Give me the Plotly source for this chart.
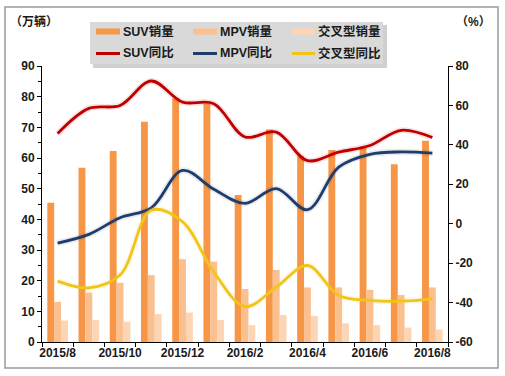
import plotly.graph_objects as go

categories = ["2015/8", "2015/9", "2015/10", "2015/11", "2015/12", "2016/1", "2016/2",
              "2016/3", "2016/4", "2016/5", "2016/6", "2016/7", "2016/8"]
suv_sales = [45.4, 56.8, 62.3, 71.8, 79.4, 77.8, 47.9, 69.3, 60.6, 62.6, 63.7, 58.0, 65.6]
mpv_sales = [13.1, 16.1, 19.3, 21.8, 27.0, 26.2, 17.3, 23.5, 17.8, 17.8, 17.0, 15.3, 17.8]
cross_sales = [7.0, 7.2, 6.6, 9.1, 9.6, 7.2, 5.5, 8.8, 8.5, 6.1, 5.5, 4.7, 4.1]
suv_yoy = [45.7, 58.5, 60.0, 72.4, 61.7, 60.9, 44.0, 46.5, 32.0, 36.3, 39.7, 47.4, 43.7]
mpv_yoy = [-9.8, -5.4, 3.0, 8.0, 27.0, 17.5, 10.3, 17.8, 7.1, 28.7, 35.2, 36.4, 35.8]
cross_yoy = [-29.1, -32.5, -26.0, 6.8, 1.0, -24.5, -42.0, -32.2, -21.2, -36.4, -38.9, -39.3, -38.1]

bar_names = ["SUV销量", "MPV销量", "交叉型销量"]
line_names = ["SUV同比", "MPV同比", "交叉型同比"]
bar_colors = ["#F79646", "#FAC090", "#FCD5B5"]
line_colors = ["#C00000", "#1F3D6B", "#F2C418"]

FONT = "Liberation Sans, Arial, Noto Sans CJK SC, sans-serif"
x = list(range(len(categories)))

fig = go.Figure()
for name, vals, col in zip(bar_names, [suv_sales, mpv_sales, cross_sales], bar_colors):
    fig.add_trace(go.Bar(x=x, y=vals, name=name, marker=dict(color=col, line=dict(width=0)),
                         showlegend=False, yaxis="y"))

for name, vals, col in zip(line_names, [suv_yoy, mpv_yoy, cross_yoy], line_colors):
    # soft glow underneath
    fig.add_trace(go.Scatter(x=x, y=vals, mode="lines", yaxis="y2", showlegend=False,
                             hoverinfo="skip",
                             line=dict(color=col, width=6, shape="spline", smoothing=1.0),
                             opacity=0.1))
    fig.add_trace(go.Scatter(x=x, y=vals, mode="lines", name=name, yaxis="y2", showlegend=False,
                             line=dict(color=col, width=2.8, shape="spline", smoothing=1.0)))

# plot area in pixels: x 42..448, y 66..342
L, R, T, B = 42, 448, 66, 342
W, H = R - L, B - T
def px(xp):
    return (xp - L) / W
def py(yp):
    return (B - yp) / H

shapes = []
# outer border
shapes.append(dict(type="rect", xref="paper", yref="paper", x0=px(5), x1=px(498), y0=py(368), y1=py(7),
                   line=dict(color="#9A9A9A", width=1.5), fillcolor="rgba(0,0,0,0)", layer="below"))
# legend shadow + box
shapes.append(dict(type="rect", xref="paper", yref="paper", x0=px(93), x1=px(387), y0=py(68), y1=py(25),
                   line=dict(width=0), fillcolor="rgba(120,120,120,0.35)", layer="above"))
shapes.append(dict(type="rect", xref="paper", yref="paper", x0=px(90), x1=px(383), y0=py(64), y1=py(22),
                   line=dict(width=0), fillcolor="#D9D9D9", layer="above"))

annotations = []
item_x = [(96, 120), (193, 217), (292, 315)]
row_y = [31.5, 53.5]
for r, (names, cols, wid) in enumerate([(bar_names, bar_colors, 6), (line_names, line_colors, 3)]):
    for (x0, x1), nm, col in zip(item_x, names, cols):
        shapes.append(dict(type="line", xref="paper", yref="paper", x0=px(x0), x1=px(x1),
                           y0=py(row_y[r]), y1=py(row_y[r]), line=dict(color=col, width=wid),
                           layer="above"))
        annotations.append(dict(xref="paper", yref="paper", x=px(x1 + 0.5), y=py(row_y[r]),
                                text="<b>%s</b>" % nm, showarrow=False, xanchor="left",
                                yanchor="middle", font=dict(family=FONT, size=12.5, color="#1A1A1A")))

annotations.append(dict(xref="paper", yref="paper", x=px(34), y=py(22), text="<b>（万辆）</b>",
                        showarrow=False, xanchor="center", yanchor="middle",
                        font=dict(family=FONT, size=12, color="#1A1A1A")))
annotations.append(dict(xref="paper", yref="paper", x=px(473), y=py(22), text="<b>（%）</b>",
                        showarrow=False, xanchor="center", yanchor="middle",
                        font=dict(family=FONT, size=12, color="#1A1A1A")))

tickfont = dict(family=FONT, size=12, color="#1A1A1A")
fig.update_layout(
    width=505, height=376,
    margin=dict(l=L, r=505 - R, t=T, b=376 - B),
    paper_bgcolor="white", plot_bgcolor="white",
    barmode="group", bargap=0.34, bargroupgap=0,
    showlegend=False,
    xaxis=dict(range=[-0.5, len(categories) - 0.5], tickvals=x[::2],
               ticktext=["<b>%s</b>" % c for c in categories[::2]],
               ticks="outside", ticklen=0, tickfont=tickfont,
               showline=True, linecolor="black", linewidth=1, showgrid=False, zeroline=False,
               minor=dict(tick0=0.5, dtick=1, ticks="outside", ticklen=4, tickcolor="black"),
               fixedrange=True),
    yaxis=dict(range=[0, 90], dtick=10, ticks="outside", ticklen=4, tickcolor="black",
               tickvals=list(range(0, 91, 10)), ticktext=["<b>%d</b>" % v for v in range(0, 91, 10)],
               tickfont=tickfont, showline=True, linecolor="black", linewidth=1,
               showgrid=False, zeroline=False,
               minor=dict(dtick=5, ticks="outside", ticklen=3, tickcolor="black")),
    yaxis2=dict(range=[-60, 80], overlaying="y", side="right", ticks="outside", ticklen=4,
                tickcolor="black", tickvals=list(range(-60, 81, 20)),
                ticktext=["<b>%d</b>" % v for v in range(-60, 81, 20)],
                tickfont=tickfont, showline=True, linecolor="black", linewidth=1,
                showgrid=False, zeroline=False),
    shapes=shapes, annotations=annotations,
)

fig.write_html("out.html", config={"displayModeBar": False},
               post_script="document.body.style.margin='0px';document.body.style.padding='0px';")
